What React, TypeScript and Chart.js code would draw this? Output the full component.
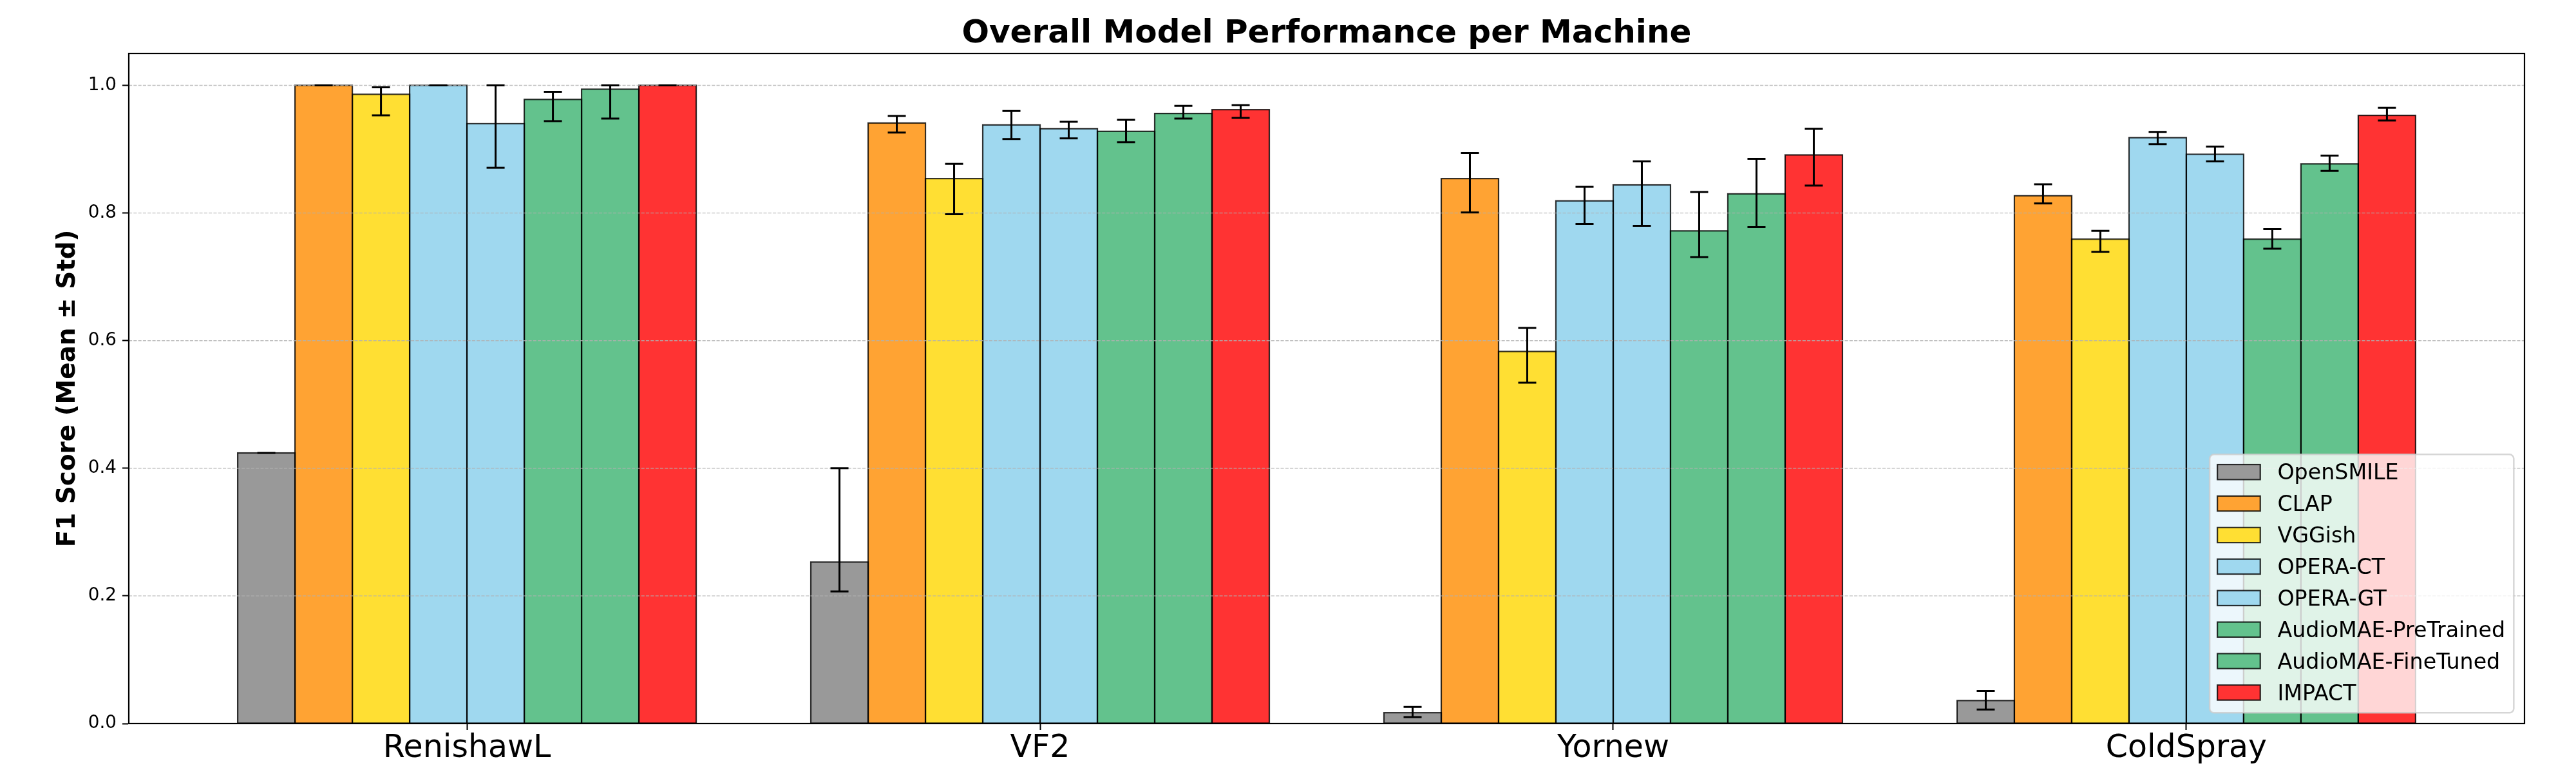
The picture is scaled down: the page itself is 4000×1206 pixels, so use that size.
import React, { useEffect, useRef } from 'react';
import { Chart, registerables } from 'chart.js';

Chart.register(...registerables);

// ---------- data ----------
const categories = ['RenishawL', 'VF2', 'Yornew', 'ColdSpray'];
const models = [
  'OpenSMILE',
  'CLAP',
  'VGGish',
  'OPERA-CT',
  'OPERA-GT',
  'AudioMAE-PreTrained',
  'AudioMAE-FineTuned',
  'IMPACT',
];

// mean F1 per machine (RenishawL, VF2, Yornew, ColdSpray)
const openSmileMean = [0.424, 0.253, 0.017, 0.036];
const clapMean = [1.0, 0.941, 0.854, 0.827];
const vggishMean = [0.986, 0.854, 0.583, 0.759];
const operaCTMean = [1.0, 0.938, 0.819, 0.918];
const operaGTMean = [0.94, 0.932, 0.844, 0.892];
const audioMAEPTMean = [0.978, 0.928, 0.772, 0.759];
const audioMAEFTMean = [0.994, 0.956, 0.83, 0.877];
const impactMean = [1.0, 0.962, 0.891, 0.953];

// lower end of error bar
const openSmileLow = [0.424, 0.207, 0.01, 0.022];
const clapLow = [1.0, 0.926, 0.801, 0.815];
const vggishLow = [0.953, 0.798, 0.534, 0.739];
const operaCTLow = [1.0, 0.916, 0.783, 0.908];
const operaGTLow = [0.871, 0.917, 0.78, 0.881];
const audioMAEPTLow = [0.944, 0.911, 0.731, 0.744];
const audioMAEFTLow = [0.948, 0.948, 0.778, 0.866];
const impactLow = [1.0, 0.949, 0.843, 0.945];

// upper end of error bar
const openSmileHigh = [0.424, 0.4, 0.026, 0.051];
const clapHigh = [1.0, 0.952, 0.894, 0.845];
const vggishHigh = [0.997, 0.877, 0.62, 0.772];
const operaCTHigh = [1.0, 0.96, 0.841, 0.927];
const operaGTHigh = [1.0, 0.943, 0.881, 0.904];
const audioMAEPTHigh = [0.99, 0.946, 0.833, 0.775];
const audioMAEFTHigh = [1.0, 0.968, 0.885, 0.89];
const impactHigh = [1.0, 0.969, 0.932, 0.965];

const yTicks = [0.0, 0.2, 0.4, 0.6, 0.8, 1.0];

const titleText = 'Overall Model Performance per Machine';
const yLabelText = 'F1 Score (Mean ± Std)';

const seriesMeans = [openSmileMean, clapMean, vggishMean, operaCTMean, operaGTMean, audioMAEPTMean, audioMAEFTMean, impactMean];
const seriesLow = [openSmileLow, clapLow, vggishLow, operaCTLow, operaGTLow, audioMAEPTLow, audioMAEFTLow, impactLow];
const seriesHigh = [openSmileHigh, clapHigh, vggishHigh, operaCTHigh, operaGTHigh, audioMAEPTHigh, audioMAEFTHigh, impactHigh];
const seriesColors = ['#999999', '#FFA333', '#FFDF33', '#9FD8EF', '#9FD8EF', '#63C28D', '#63C28D', '#FF3333'];

const FONT = '"DejaVu Sans", "Liberation Sans", sans-serif';

// ---------- plugin for matplotlib-like extras ----------
const extrasPlugin = {
  id: 'mplExtras',
  afterDraw(chart: any) {
    const ctx: CanvasRenderingContext2D = chart.ctx;
    const { left, right, top, bottom } = chart.chartArea;
    const yScale = chart.scales.y;

    ctx.save();

    // bar edges (centered on bar boundary like matplotlib)
    ctx.lineWidth = 2.2;
    ctx.strokeStyle = 'rgba(0,0,0,0.8)';
    chart.data.datasets.forEach((_ds: any, i: number) => {
      const meta = chart.getDatasetMeta(i);
      meta.data.forEach((el: any) => {
        const p = el.getProps(['x', 'y', 'base', 'width'], true);
        ctx.strokeRect(p.x - p.width / 2, p.y, p.width, p.base - p.y);
      });
    });

    // dashed horizontal grid on top of bars
    ctx.setLineDash([5.1, 2.2]);
    ctx.lineWidth = 1.4;
    ctx.strokeStyle = 'rgba(176,176,176,0.8)';
    yTicks.forEach((v) => {
      if (v === 0) return;
      const py = yScale.getPixelForValue(v);
      ctx.beginPath();
      ctx.moveTo(left, py);
      ctx.lineTo(right, py);
      ctx.stroke();
    });
    ctx.setLineDash([]);

    // error bars
    ctx.strokeStyle = '#000';
    ctx.lineWidth = 3;
    const cap = 14;
    chart.data.datasets.forEach((_ds: any, i: number) => {
      const meta = chart.getDatasetMeta(i);
      meta.data.forEach((el: any, j: number) => {
        const px = el.x;
        const pl = yScale.getPixelForValue(seriesLow[i][j]);
        const ph = yScale.getPixelForValue(seriesHigh[i][j]);
        ctx.beginPath();
        ctx.moveTo(px, pl);
        ctx.lineTo(px, ph);
        ctx.moveTo(px - cap, pl);
        ctx.lineTo(px + cap, pl);
        ctx.moveTo(px - cap, ph);
        ctx.lineTo(px + cap, ph);
        ctx.stroke();
      });
    });

    // spines
    ctx.strokeStyle = '#000';
    ctx.lineWidth = 2.2;
    ctx.strokeRect(left, top, right - left, bottom - top);

    // legend (lower right, inside axes)
    const fs = 33.3;
    ctx.font = `${fs}px ${FONT}`;
    const maxW = Math.max(...models.map((m) => ctx.measureText(m).width));
    const pad = 12;
    const hl = 2 * fs;
    const hh = 0.7 * fs;
    const htp = 0.8 * fs;
    const boxW = pad + hl + htp + maxW + 0.4 * fs;
    const boxH = 401;
    const bx = right - 0.5 * fs - boxW;
    const by = bottom - 0.5 * fs - boxH;
    ctx.beginPath();
    (ctx as any).roundRect(bx, by, boxW, boxH, 0.2 * fs);
    ctx.fillStyle = 'rgba(255,255,255,0.8)';
    ctx.fill();
    ctx.lineWidth = 2.5;
    ctx.strokeStyle = 'rgba(204,204,204,0.8)';
    ctx.stroke();
    ctx.textAlign = 'left';
    ctx.textBaseline = 'alphabetic';
    models.forEach((m, k) => {
      const baseY = by + 39 + k * 48.9;
      const hx = bx + pad;
      ctx.fillStyle = seriesColors[k];
      ctx.fillRect(hx, baseY - hh, hl, hh);
      ctx.lineWidth = 2.2;
      ctx.strokeStyle = 'rgba(0,0,0,0.8)';
      ctx.strokeRect(hx, baseY - hh, hl, hh);
      ctx.fillStyle = '#000';
      ctx.fillText(m, hx + hl + htp, baseY);
    });

    // title
    ctx.fillStyle = '#000';
    ctx.font = `bold 50px ${FONT}`;
    ctx.textAlign = 'center';
    ctx.textBaseline = 'alphabetic';
    ctx.fillText(titleText, (left + right) / 2, 66);

    // y axis label
    ctx.save();
    ctx.translate(116, (top + bottom) / 2);
    ctx.rotate(-Math.PI / 2);
    ctx.font = `bold 38.9px ${FONT}`;
    ctx.textAlign = 'center';
    ctx.textBaseline = 'alphabetic';
    ctx.fillText(yLabelText, 0, 0);
    ctx.restore();

    ctx.restore();
  },
};

export default function App() {
  const canvasRef = useRef<HTMLCanvasElement>(null);

  useEffect(() => {
    document.body.style.margin = '0';
    const canvas = canvasRef.current;
    if (!canvas) return;

    const datasets = models.map((name, i) => ({
      label: name,
      data: seriesMeans[i].map((v, j) => ({ x: j, y: v })),
      backgroundColor: seriesColors[i],
      borderWidth: 0,
      categoryPercentage: 0.8,
      barPercentage: 1.0,
    }));

    const chart = new Chart(canvas, {
      type: 'bar',
      data: { datasets },
      options: {
        animation: false,
        responsive: false,
        devicePixelRatio: 1,
        layout: { padding: { top: 83, right: 80, bottom: 0, left: 0 } },
        plugins: {
          legend: { display: false },
          title: { display: false },
          tooltip: { enabled: false },
        },
        scales: {
          x: {
            type: 'linear',
            min: -0.59,
            max: 3.59,
            offset: false,
            afterBuildTicks: (s: any) => {
              s.ticks = categories.map((_c, i) => ({ value: i }));
            },
            afterFit: (s: any) => {
              s.height = 83;
            },
            ticks: {
              callback: (v: any) => categories[v as number] ?? '',
              font: { family: FONT, size: 49 },
              color: '#000',
              padding: 0,
              maxRotation: 0,
              autoSkip: false,
            },
            grid: {
              offset: false,
              drawOnChartArea: false,
              drawTicks: true,
              tickLength: 10,
              tickColor: '#000',
              tickWidth: 2,
            },
            border: { display: true, color: '#000', width: 2 },
          },
          y: {
            type: 'linear',
            min: 0,
            max: 1.05,
            afterBuildTicks: (s: any) => {
              s.ticks = yTicks.map((v) => ({ value: v }));
            },
            afterFit: (s: any) => {
              s.width = 200;
            },
            ticks: {
              callback: (v: any) => Number(v).toFixed(1),
              font: { family: FONT, size: 27.8 },
              color: '#000',
              padding: 9,
            },
            grid: {
              drawOnChartArea: false,
              drawTicks: true,
              tickLength: 10,
              tickColor: '#000',
              tickWidth: 2,
            },
            border: { display: true, color: '#000', width: 2 },
          },
        },
      } as any,
      plugins: [extrasPlugin],
    });

    return () => chart.destroy();
  }, []);

  return (
    <canvas
      ref={canvasRef}
      width={4000}
      height={1206}
      style={{ display: 'block', width: 4000, height: 1206 }}
    />
  );
}
